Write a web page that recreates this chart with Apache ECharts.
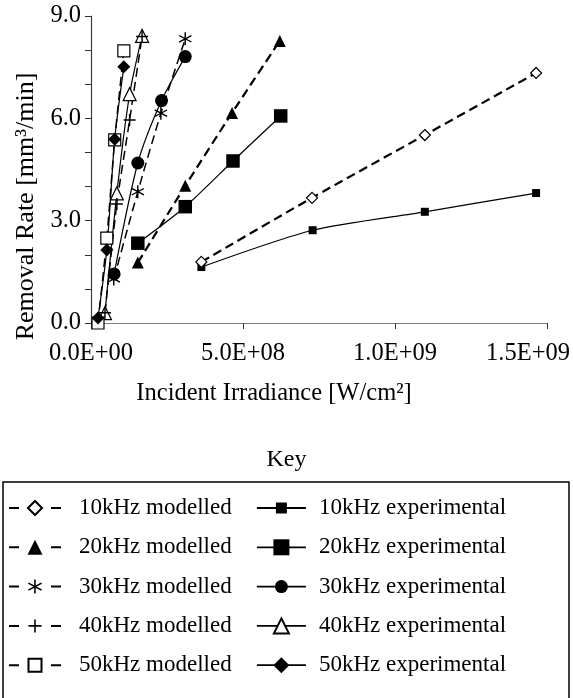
<!DOCTYPE html>
<html>
<head>
<meta charset="utf-8">
<script src="https://cdn.jsdelivr.net/npm/echarts@6/dist/echarts.min.js"></script>
<style>html,body{margin:0;padding:0;background:#fff}#c{width:573px;height:698px}</style>
</head>
<body>
<div id="c"></div>
<script>
// ---- data ----
const xTicks = [0, 5e8, 1e9, 1.5e9];
const yTicks = [0, 3, 6, 9];

const m10x = [3.63e8, 7.27e8, 1.098e9, 1.464e9];
const m10y = [1.79, 3.67, 5.51, 7.33];
const e10x = [3.63e8, 7.29e8, 1.098e9, 1.464e9];
const e10y = [1.64, 2.72, 3.26, 3.81];

const m20x = [1.54e8, 3.10e8, 4.64e8, 6.21e8];
const m20y = [1.77, 4.02, 6.16, 8.27];
const e20x = [1.54e8, 3.10e8, 4.67e8, 6.24e8];
const e20y = [2.34, 3.41, 4.75, 6.07];

const m30x = [7.5e7, 1.54e8, 2.30e8, 3.10e8];
const m30y = [1.29, 3.85, 6.15, 8.33];
const e30x = [7.6e7, 1.54e8, 2.32e8, 3.10e8];
const e30y = [1.44, 4.69, 6.52, 7.81];

const m40x = [4.6e7, 8.5e7, 1.27e8, 1.68e8];
const m40y = [0.30, 3.49, 5.95, 8.40];
const e40x = [4.6e7, 8.5e7, 1.27e8, 1.68e8];
const e40y = [0.29, 3.80, 6.71, 8.42];

const m50x = [2.3e7, 5.2e7, 7.8e7, 1.08e8];
const m50y = [0.00, 2.49, 5.37, 7.98];
const e50x = [2.3e7, 5.2e7, 7.8e7, 1.08e8];
const e50y = [0.15, 2.14, 5.39, 7.51];

const modelledNames = ['10kHz modelled', '20kHz modelled', '30kHz modelled', '40kHz modelled', '50kHz modelled'];
const experimentalNames = ['10kHz experimental', '20kHz experimental', '30kHz experimental', '40kHz experimental', '50kHz experimental'];

// ---- styles ----
const FONT = 'Liberation Serif';
const ASTERISK = 'path://M45 0L55 0L55 100L45 100Z M9.8 20.2L95.8 70.2L90.8 78.8L4.8 28.8Z M4.8 71.2L90.8 21.2L95.8 29.8L9.8 79.8Z';
const PLUS = 'path://M44 0L56 0L56 44L100 44L100 56L56 56L56 100L44 100L44 56L0 56L0 44L44 44Z';

const open = {color: '#fff', borderColor: '#000', borderWidth: 1.2};
const filled = {color: '#000'};

function pairs(xs, ys) { return xs.map((x, i) => [x, ys[i]]); }

function mk(name, xs, ys, symbol, size, item, dashed, width) {
  return {
    name: name,
    type: 'line',
    data: pairs(xs, ys),
    symbol: symbol,
    symbolSize: size,
    smooth: 0.25,
    clip: false,
    itemStyle: item,
    lineStyle: {color: '#000', width: width, type: dashed ? [9, 5] : 'solid'},
    emphasis: {disabled: true}
  };
}

const series = [
  mk(experimentalNames[0], e10x, e10y, 'rect', 8, filled, false, 1.2),
  mk(modelledNames[0], m10x, m10y, 'diamond', 11, open, true, 2.2),
  mk(experimentalNames[1], e20x, e20y, 'rect', 13.5, filled, false, 1.2),
  mk(modelledNames[1], m20x, m20y, 'triangle', 12, filled, true, 2.2),
  mk(experimentalNames[2], e30x, e30y, 'circle', 13, filled, false, 1.2),
  mk(modelledNames[2], m30x, m30y, ASTERISK, 13, filled, true, 1.5),
  mk(experimentalNames[3], e40x, e40y, 'triangle', 13, open, false, 1.2),
  mk(modelledNames[3], m40x, m40y, PLUS, 12, filled, true, 1.5),
  mk(modelledNames[4], m50x, m50y, 'rect', 12, open, true, 1.5),
  mk(experimentalNames[4], e50x, e50y, 'diamond', 13, filled, false, 1.2)
];

function sci(v) {
  if (v === 0) return '0.0E+00';
  const parts = v.toExponential(1).split('e');
  const e = parseInt(parts[1], 10);
  return parts[0] + 'E' + (e < 0 ? '-' : '+') + String(Math.abs(e)).padStart(2, '0');
}

const axisText = {fontFamily: FONT, fontSize: 24.5, color: '#000'};
const legendTextL = {fontFamily: FONT, fontSize: 23, color: '#000', padding: [0, 0, 0, 13], lineHeight: 24};
const legendTextR = {fontFamily: FONT, fontSize: 23, color: '#000', padding: [0, 0, 0, 8], lineHeight: 24};

// legend key: one legend per entry so each key symbol keeps its own size
const legendSymbolSizes = {modelled: [14, 15, 14, 13, 13], experimental: [11, 16, 13, 15, 16]};
const legendRowTop = 496, legendRowStep = 39.3;
const legends = [];
modelledNames.forEach((n, i) => legends.push({
  data: [n], left: 8, top: legendRowTop + i * legendRowStep, padding: 0,
  itemWidth: 52, itemHeight: legendSymbolSizes.modelled[i] / 0.8, selectedMode: false,
  lineStyle: {type: [10, 32], width: 2},
  textStyle: legendTextL
}));
experimentalNames.forEach((n, i) => legends.push({
  data: [n], left: 256, top: legendRowTop + i * legendRowStep, padding: 0,
  itemWidth: 49, itemHeight: legendSymbolSizes.experimental[i] / 0.8, selectedMode: false,
  lineStyle: {type: 'solid', width: 1.8},
  textStyle: legendTextR
}));

const option = {
  animation: false,
  backgroundColor: '#fff',
  title: {
    text: 'Key', left: 'center', top: 443,
    textStyle: {fontFamily: FONT, fontSize: 24, fontWeight: 'normal', color: '#000'}
  },
  grid: {left: 91, right: 24, top: 16, bottom: 375, containLabel: false},
  xAxis: {
    type: 'value', min: xTicks[0], max: xTicks[xTicks.length - 1], interval: xTicks[1] - xTicks[0],
    name: 'Incident Irradiance [W/cm²]', nameLocation: 'middle', nameGap: 58,
    nameTextStyle: Object.assign({}, axisText, {padding: [0, 90, 0, 0]}),
    axisLine: {show: true, lineStyle: {color: '#808080', width: 1.2}},
    axisTick: {show: true, inside: false, length: 6, lineStyle: {color: '#333'}},
    splitLine: {show: false},
    axisLabel: Object.assign({}, axisText, {
      margin: 18,
      formatter: function (v) { return v === xTicks[xTicks.length - 1] ? '{r|' + sci(v) + '}' : sci(v); },
      rich: {r: {fontFamily: FONT, fontSize: 24.5, color: '#000', padding: [0, 38, 0, 0]}}
    })
  },
  yAxis: {
    type: 'value', min: yTicks[0], max: yTicks[yTicks.length - 1], interval: 1,
    name: 'Removal Rate [mm³/min]', nameLocation: 'middle', nameGap: 46, nameRotate: 90,
    nameTextStyle: {fontFamily: FONT, fontSize: 26, color: '#000', padding: [0, 74, 0, 0]},
    axisLine: {show: true, lineStyle: {color: '#404040', width: 1.2}},
    axisTick: {show: true, inside: false, length: 6, lineStyle: {color: '#333'}},
    splitLine: {show: false},
    axisLabel: Object.assign({}, axisText, {
      margin: 10,
      formatter: function (v) { return yTicks.indexOf(v) >= 0 ? v.toFixed(1) : ''; }
    })
  },
  legend: legends,
  graphic: [{
    type: 'rect', silent: true,
    shape: {x: 3, y: 482, width: 566, height: 240},
    style: {fill: 'none', stroke: '#000', lineWidth: 1.5}
  }],
  series: series
};

const chart = echarts.init(document.getElementById('c'), null, {renderer: 'canvas'});
chart.setOption(option);
</script>
</body>
</html>
